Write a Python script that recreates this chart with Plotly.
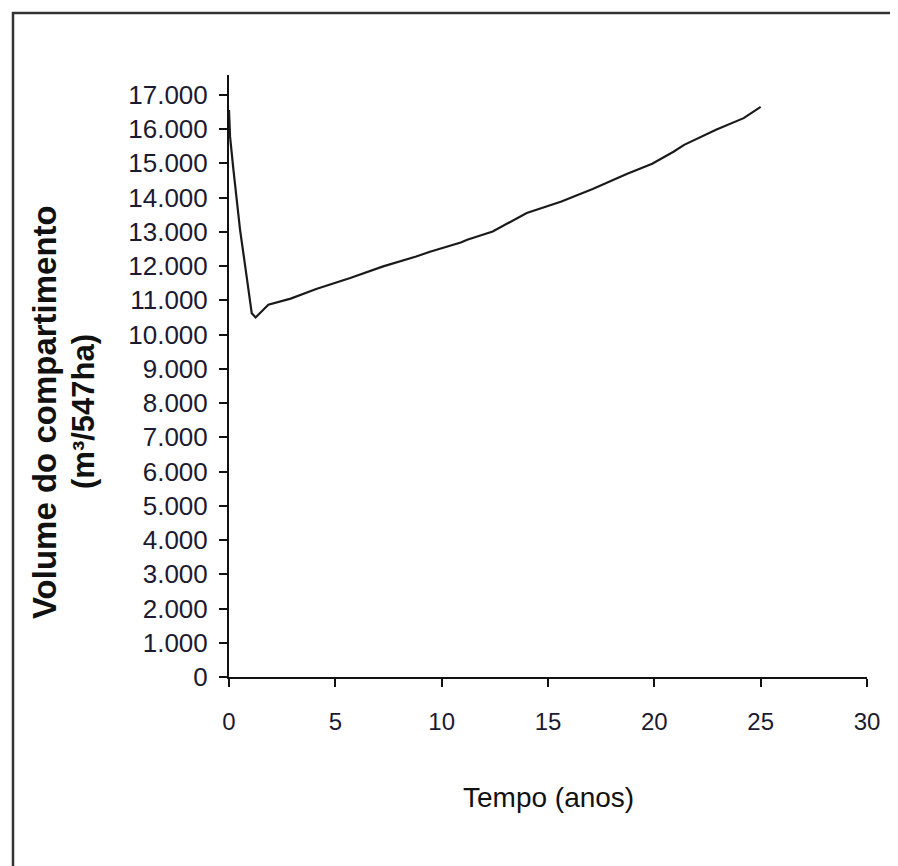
import plotly.graph_objects as go

# Data
tempo_anos = [0, 0.05, 0.2, 0.36, 0.52, 0.72, 0.91, 1.07, 1.25, 1.85, 2.9, 4.1, 5.7,
              7.25, 8.8, 9.45, 10.9, 11.2, 12.4, 14.0, 15.6, 17.1, 18.7, 19.9, 20.9,
              21.4, 22.9, 24.2, 25]
volume = [16560, 15780, 14860, 13930, 13060, 12180, 11400, 10620, 10500, 10870, 11050,
          11330, 11650, 11990, 12280, 12420, 12690, 12770, 13010, 13550, 13880, 14250,
          14690, 14990, 15340, 15540, 15980, 16320, 16650]
y_ticks = list(range(0, 17001, 1000))
x_ticks = [0, 5, 10, 15, 20, 25, 30]

FONT = "Liberation Sans, Arial, sans-serif"
TXT = "#1c1a30"

fig = go.Figure()
fig.add_trace(go.Scatter(x=tempo_anos, y=volume, mode="lines",
                         line=dict(color="#1a1a1a", width=2.2), showlegend=False))

W, H = 898, 866
OFF = 8  # page body margin
L, R, T, B = 229, 867, 75, 677  # page coordinates of plot area
pw, ph = R - L, B - T

def px(x):
    return (x - L) / pw

def py(y):
    return (B - y) / ph

fig.update_layout(
    width=W, height=H,
    margin=dict(l=L - OFF, r=W - (R - OFF), t=T - OFF, b=H - (B - OFF), pad=0),
    paper_bgcolor="white", plot_bgcolor="white",
    separators=",.",
    font=dict(family=FONT, color=TXT),
    xaxis=dict(range=[0, 30], tickvals=x_ticks, showgrid=False, zeroline=False,
               showline=True, linecolor="#111", linewidth=2,
               ticks="outside", ticklen=8, tickwidth=2, tickcolor="#111",
               tickfont=dict(family=FONT, size=24, color=TXT),
               ticklabelstandoff=14),
    yaxis=dict(range=[0, 17580], tickvals=y_ticks, tickformat=",.0f",
               showgrid=False, zeroline=False,
               showline=True, linecolor="#111", linewidth=2,
               ticks="outside", ticklen=8, tickwidth=2, tickcolor="#111",
               tickfont=dict(family=FONT, size=26, color=TXT),
               ticklabelstandoff=6),
    annotations=[
        dict(text="<b>Volume do compartimento</b>",
             xref="paper", yref="paper", x=px(45), y=py(412),
             xanchor="center", yanchor="middle", textangle=-90, showarrow=False,
             font=dict(family=FONT, size=33, color="#111")),
        dict(text="<b>(m³/547ha)</b>",
             xref="paper", yref="paper", x=px(84), y=py(412),
             xanchor="center", yanchor="middle", textangle=-90, showarrow=False,
             font=dict(family=FONT, size=31, color="#111")),
        dict(text="Tempo (anos)", xref="paper", yref="paper", x=px(548), y=py(797),
             xanchor="center", yanchor="middle", showarrow=False,
             font=dict(family=FONT, size=28, color="#111")),
    ],
    shapes=[dict(type="rect", xref="paper", yref="paper",
                 x0=px(13), x1=px(915), y0=py(885), y1=py(13),
                 line=dict(color="#333", width=2.5), fillcolor="rgba(0,0,0,0)")],
)

fig.write_html("out.html")
